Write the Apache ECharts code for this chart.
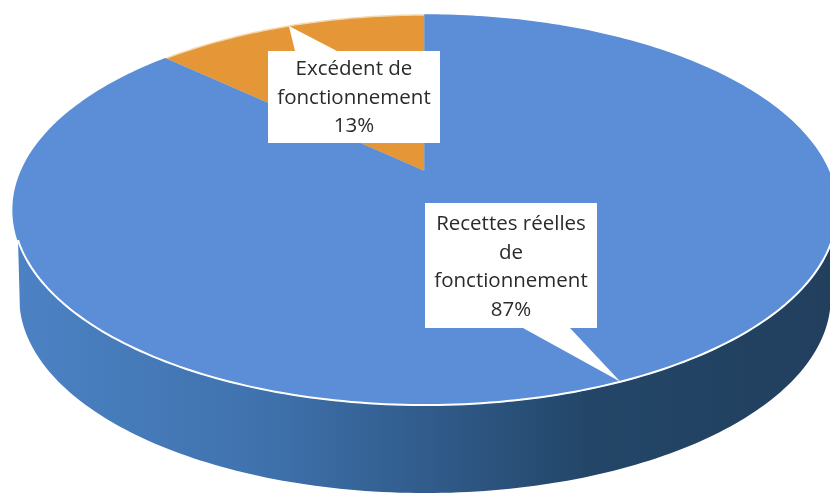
<!DOCTYPE html>
<html>
<head>
<meta charset="utf-8">
<style>
html, body { margin:0; padding:0; background:#fff; }
#view1 { width:830px; height:493px; }
</style>
</head>
<body>
<div id="view1"></div>
<script src="https://cdn.jsdelivr.net/npm/echarts@6/dist/echarts.min.js"></script>
<script>
"use strict";
var categories = ['Excédent de fonctionnement', 'Recettes réelles de fonctionnement'];
var wrapped = ['Excédent de\nfonctionnement', 'Recettes réelles\nde\nfonctionnement'];
var values = [13, 87];
var colors = ['#e59636', '#5b8ed6'];
var edges = ['#f3d9b0', '#5b8ed6'];

// flattened pie, seen in perspective
var cx = 425, cy = 172, ra = 404, rb = 187.6, persp = 0.195, depth = 88;
var boxes = [
	{ x:268, y:51, w:172, h:92, base:[295, 337], edge:'top', textY:98 },
	{ x:425, y:203, w:172, h:125, base:[523, 570], edge:'bottom', textY:267 }
];

var total = values.reduce(function(a, b){ return a + b; }, 0);
function startOf(i){
	return values.slice(0, i).reduce(function(a, b){ return a + b; }, 0) / total;
}
// frac: share of the turn, counter-clockwise from 12 o'clock
function pt(frac, lower){
	var t = frac * 2 * Math.PI, u = -Math.sin(t), v = -Math.cos(t);
	var s = 1 / (1 - persp * v);
	return [cx + (lower ? ra * 0.985 : ra) * u * s, cy + (lower ? depth : 0) + rb * v * s];
}
function arc(f0, f1, lower){
	var pts = [], n = Math.max(2, Math.ceil(Math.abs(f1 - f0) * 360));
	for(var i = 0; i <= n; i++) pts.push(pt(f0 + (f1 - f0) * i / n, lower));
	return pts;
}

function renderSlice(params, api){
	var i = params.dataIndex;
	var f0 = startOf(i), f1 = f0 + api.value(0) / total;
	var children = [];
	// side wall, only what faces the viewer
	var w0 = Math.max(f0, 0.305), w1 = Math.min(f1, 0.695);
	if(w1 > w0){
		children.push({
			type:'polygon',
			shape:{ points: arc(w0, w1).concat(arc(0.71, 0.29, true)) },
			style:{ fill: new echarts.graphic.LinearGradient(0, 0, 1, 0, [
				{ offset:0, color:'#4c82c4' },
				{ offset:0.3, color:'#3f72ad' },
				{ offset:0.5, color:'#315c8c' },
				{ offset:0.7, color:'#234668' },
				{ offset:1, color:'#223f5e' }
			]) }
		});
	}
	children.push({
		type:'polygon',
		shape:{ points: [[cx, cy]].concat(arc(f0, f1)) },
		style:{ fill: colors[i], stroke: edges[i], lineWidth:1.5 }
	});
	if(w1 > w0){
		children.push({
			type:'polyline',
			shape:{ points: arc(w0, w1) },
			style:{ fill:null, stroke:'#fff', lineWidth:2 }
		});
	}
	return { type:'group', children:children };
}

function renderCallout(params, api){
	var i = params.dataIndex, b = boxes[i];
	var mid = startOf(i) + api.value(0) / total / 2;
	var baseY = b.edge == 'top' ? b.y : b.y + b.h;
	return { type:'group', children:[
		{ type:'rect', shape:{ x:b.x, y:b.y, width:b.w, height:b.h }, style:{ fill:'#fff' } },
		{ type:'polygon', shape:{ points:[[b.base[0], baseY], pt(mid), [b.base[1], baseY]] }, style:{ fill:'#fff' } },
		{ type:'text', style:{
			text: wrapped[i] + '\n' + api.value(0) + '%',
			x: b.x + b.w / 2, y: b.textY,
			align:'center', verticalAlign:'middle',
			font:'20.5px "Open Sans"', lineHeight:28.5, fill:'#2b2b2b'
		} }
	] };
}

var seriesData = categories.map(function(d, i){ return { name:d, value:[values[i]] }; });
var myChart = echarts.init(document.getElementById('view1'));
myChart.setOption({
	animation:false,
	backgroundColor:'#fff',
	series:[
		{ type:'custom', coordinateSystem:'none', renderItem:renderSlice, data:seriesData, z:2, silent:true },
		{ type:'custom', coordinateSystem:'none', renderItem:renderCallout, data:seriesData, z:3, silent:true }
	]
});
</script>
</body>
</html>
